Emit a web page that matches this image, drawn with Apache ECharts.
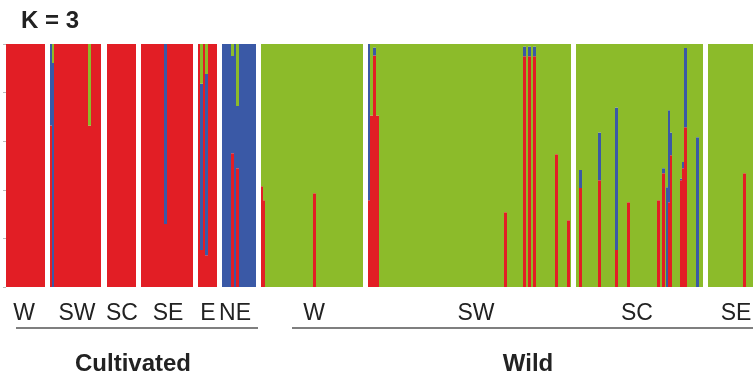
<!DOCTYPE html>
<html><head><meta charset="utf-8">
<script src="https://cdn.jsdelivr.net/npm/echarts@6/dist/echarts.min.js"></script>
<style>html,body{margin:0;padding:0;background:#fff}#c{width:753px;height:378px}</style>
</head><body><div id="c"></div>
<script>
// ---- data ----
const clusterNames = ['Cluster red', 'Cluster blue', 'Cluster green'];
const groupNames = ['W', 'SW', 'SC', 'SE', 'E', 'NE', 'W', 'SW', 'SC', 'SE'];
const groupClass = ['Cultivated','Cultivated','Cultivated','Cultivated','Cultivated','Cultivated','Wild','Wild','Wild','Wild'];
// runs of consecutive individuals: [count, red, green, blue] membership
const cultW  = [[39, 1, 0, 0]];
const cultSW = [[2, .665, 0, .335], [2, 0, .078, .922], [34, 1, 0, 0], [3, .665, .335, 0], [10, 1, 0, 0]];
const cultSC = [[29, 1, 0, 0]];
const cultSE = [[23, 1, 0, 0], [3, .259, 0, .741], [26, 1, 0, 0]];
const cultE  = [[2, 1, 0, 0], [3, .152, .164, .684], [2, 1, 0, 0], [3, .131, .123, .746], [9, 1, 0, 0]];
const cultNE = [[9, 0, 0, 1], [3, .55, .049, .401], [2, 0, 0, 1], [3, .489, .255, .256], [17, 0, 0, 1]];
const wildW  = [[2, .415, .585, 0], [2, .357, .643, 0], [48, 0, 1, 0], [3, .386, .614, 0], [47, 0, 1, 0]];
const wildSW = [[2, .357, 0, .643], [3, .706, .294, 0], [3, .953, .014, .033], [3, .706, .294, 0],
  [125, 0, 1, 0], [3, .308, .692, 0], [16, 0, 1, 0], [3, .95, .01, .04], [2, 0, 1, 0], [3, .95, .01, .04],
  [2, 0, 1, 0], [3, .95, .01, .04], [19, 0, 1, 0], [3, .546, .454, 0], [9, 0, 1, 0], [3, .275, .725, 0], [1, 0, 1, 0]];
const wildSC = [[3, 0, 1, 0], [3, .407, .519, .074], [16, 0, 1, 0], [3, .439, .364, .197], [14, 0, 1, 0],
  [3, .152, .261, .587], [9, 0, 1, 0], [3, .349, .651, 0], [27, 0, 1, 0], [3, .357, .643, 0], [2, 0, 1, 0],
  [3, .468, .511, .021], [1, 0, 1, 0], [2, 0, .589, .411], [2, .349, .273, .378], [2, .542, .364, .094],
  [8, 0, 1, 0], [2, .439, .553, .008], [2, .489, .486, .025], [3, .657, .016, .327], [9, 0, 1, 0],
  [3, 0, .384, .616], [4, 0, 1, 0]];
const wildSE = [[35, 0, 1, 0], [3, .468, .532, 0], [7, 0, 1, 0]];
const groupRuns = [cultW, cultSW, cultSC, cultSE, cultE, cultNE, wildW, wildSW, wildSC, wildSE];
const yTicks = [0, 0.2, 0.4, 0.6, 0.8, 1.0];

// ---- build ----
const gapAfter = [5, 6, 5, 5, 5, 5, 5, 5, 5, 0];
const cats = [], red = [], blue = [], green = [];
groupRuns.forEach((runs, gi) => {
  runs.forEach(r => {
    for (let k = 0; k < r[0]; k++) {
      cats.push(groupNames[gi] + '-' + cats.length);
      red.push(r[1]); green.push(r[2]); blue.push(r[3]);
    }
  });
  for (let k = 0; k < gapAfter[gi]; k++) {
    cats.push('gap-' + cats.length);
    red.push(null); green.push(null); blue.push(null);
  }
});

const RED = '#E21E25', GREEN = '#8CBB2A', BLUE = '#3A59A6';
const FONT = '"Liberation Sans", Arial, sans-serif';
const chart = echarts.init(document.getElementById('c'), null, {renderer: 'canvas'});
const mk = (name, data, color) => ({
  name, type: 'bar', stack: 'q', data, barCategoryGap: '0%', barGap: '0%',
  itemStyle: {color}, emphasis: {disabled: true}, silent: true
});
const labelX = [24, 77, 122, 168, 208, 235, 314, 476, 637, 736];
chart.setOption({
  animation: false,
  backgroundColor: '#fff',
  grid: {left: 6, right: 0, top: 44, bottom: 91, containLabel: false},
  xAxis: {type: 'category', data: cats, axisLine: {show: false}, axisTick: {show: false}, axisLabel: {show: false}},
  yAxis: {type: 'value', min: yTicks[0], max: yTicks[yTicks.length - 1], interval: 0.2,
    axisLine: {show: false}, axisLabel: {show: false}, splitLine: {show: false},
    axisTick: {show: true, length: 3, lineStyle: {color: '#bbb'}}},
  series: [mk(clusterNames[0], red, RED), mk(clusterNames[1], blue, BLUE), mk(clusterNames[2], green, GREEN)],
  graphic: [
    {type: 'text', style: {text: 'K = 3', x: 21, y: 21, font: 'bold 24px ' + FONT, fill: '#222', textVerticalAlign: 'middle'}},
    {type: 'line', shape: {x1: 16, y1: 328, x2: 258, y2: 328}, style: {stroke: '#555', lineWidth: 1.5}},
    {type: 'line', shape: {x1: 292, y1: 328, x2: 753, y2: 328}, style: {stroke: '#555', lineWidth: 1.5}},
    {type: 'text', style: {text: groupClass[0], x: 133, y: 364, font: 'bold 24px ' + FONT, fill: '#222', textAlign: 'center', textVerticalAlign: 'middle'}},
    {type: 'text', style: {text: groupClass[6], x: 528, y: 364, font: 'bold 24px ' + FONT, fill: '#222', textAlign: 'center', textVerticalAlign: 'middle'}},
    ...groupNames.map((g, i) => ({type: 'text', style: {text: g, x: labelX[i], y: 314, font: '23px ' + FONT, fill: '#222', textAlign: 'center', textVerticalAlign: 'middle'}}))
  ]
});
</script></body></html>
